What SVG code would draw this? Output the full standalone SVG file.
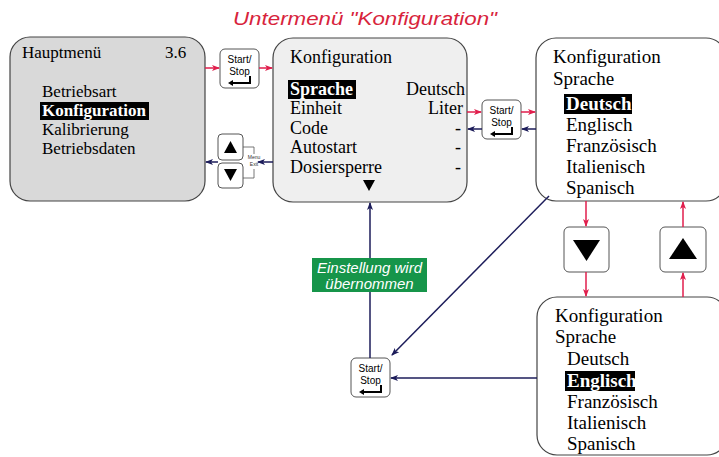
<svg xmlns="http://www.w3.org/2000/svg" width="719" height="457" viewBox="0 0 719 457">
<defs>
<marker id="ar" markerWidth="8" markerHeight="6" refX="7" refY="3" orient="auto" markerUnits="userSpaceOnUse"><path d="M0,0 L8,3 L0,6 L2,3 Z" fill="#e01e4c"/></marker>
<marker id="ab" markerWidth="8" markerHeight="6" refX="7" refY="3" orient="auto" markerUnits="userSpaceOnUse"><path d="M0,0 L8,3 L0,6 L2,3 Z" fill="#1c1c5a"/></marker>
<g id="ss">
<rect x="0" y="0" width="39" height="39" rx="5" fill="#fff" stroke="#555" stroke-width="1"/>
<text x="19.5" y="14" class="k">Start/</text>
<text x="19.5" y="26" class="k">Stop</text>
<path d="M30,27 V34 H12" fill="none" stroke="#000" stroke-width="2"/>
<path d="M8,34 L13,31 L13,37 Z" fill="#000"/>
</g>
</defs>
<style>
.s{font-family:"Liberation Serif","Times New Roman",serif;fill:#000}
.b{font-family:"Liberation Serif","Times New Roman",serif;font-weight:bold;fill:#fff}
.k{font-family:"Liberation Sans",Arial,sans-serif;font-size:10px;text-anchor:middle;fill:#000}
.r{stroke:#e01e4c;stroke-width:1.5;fill:none}
.n{stroke:#1c1c5a;stroke-width:1.5;fill:none}
.kb{fill:#fff;stroke:#555;stroke-width:1}
</style>
<rect width="719" height="457" fill="#fff"/>
<text x="233" y="25" font-family="Liberation Sans, Arial, sans-serif" font-size="18" font-style="italic" fill="#d8243c" textLength="264" lengthAdjust="spacingAndGlyphs">Untermenü "Konfiguration"</text>

<g id="hauptmenu">
<rect x="10" y="37" width="195" height="164" rx="20" fill="#d9d9d9" stroke="#444" stroke-width="1.2"/>
<text x="22" y="58" class="s" font-size="17">Hauptmenü</text>
<text x="165" y="58" class="s" font-size="17">3.6</text>
<text x="42" y="97" class="s" font-size="17">Betriebsart</text>
<rect x="40" y="102" width="109" height="18" fill="#000"/>
<text x="42" y="116" class="b" font-size="17">Konfiguration</text>
<text x="42" y="135" class="s" font-size="17">Kalibrierung</text>
<text x="42" y="154" class="s" font-size="17">Betriebsdaten</text>
</g>

<g id="konfiguration">
<rect x="273" y="38" width="194" height="164" rx="20" fill="#efefef" stroke="#444" stroke-width="1.2"/>
<text x="290" y="63" class="s" font-size="18">Konfiguration</text>
<rect x="288" y="80" width="68" height="19" fill="#000"/>
<text x="290" y="95" class="b" font-size="18">Sprache</text>
<text x="290" y="114" class="s" font-size="18">Einheit</text>
<text x="290" y="134" class="s" font-size="18">Code</text>
<text x="290" y="153" class="s" font-size="18">Autostart</text>
<text x="290" y="173" class="s" font-size="18">Dosiersperre</text>
<g class="s" font-size="18" text-anchor="end">
<text x="465" y="95">Deutsch</text>
<text x="463" y="114">Liter</text>
<text x="461" y="134">-</text>
<text x="461" y="153">-</text>
<text x="461" y="173">-</text>
</g>
<path d="M363,180 L375,180 L369,191 Z" fill="#000"/>
</g>

<g id="sprache-deutsch">
<rect x="536" y="38" width="190" height="163" rx="20" fill="#fff" stroke="#444" stroke-width="1.2"/>
<text x="553" y="63" class="s" font-size="19">Konfiguration</text>
<text x="553" y="85" class="s" font-size="19">Sprache</text>
<rect x="564" y="94" width="68" height="20" fill="#000"/>
<text x="566" y="110" class="b" font-size="19">Deutsch</text>
<text x="566" y="131" class="s" font-size="19">Englisch</text>
<text x="566" y="152" class="s" font-size="19">Französisch</text>
<text x="566" y="173" class="s" font-size="19">Italienisch</text>
<text x="566" y="194" class="s" font-size="19">Spanisch</text>
</g>

<g id="sprache-englisch">
<rect x="537" y="297" width="190" height="158" rx="20" fill="#fff" stroke="#444" stroke-width="1.2"/>
<text x="555" y="322" class="s" font-size="19">Konfiguration</text>
<text x="555" y="343" class="s" font-size="19">Sprache</text>
<text x="567" y="365" class="s" font-size="19">Deutsch</text>
<rect x="565" y="371" width="70" height="20" fill="#000"/>
<text x="567" y="387" class="b" font-size="19">Englisch</text>
<text x="567" y="408" class="s" font-size="19">Französisch</text>
<text x="567" y="429" class="s" font-size="19">Italienisch</text>
<text x="567" y="450" class="s" font-size="19">Spanisch</text>
</g>

<g id="btn-start1"><use href="#ss" x="220" y="49"/></g>
<g id="btn-start2"><use href="#ss" x="482" y="100"/></g>
<g id="btn-start3"><use href="#ss" x="351" y="358"/></g>

<g id="btn-menu">
<rect x="218" y="134" width="25" height="26" rx="4" class="kb"/>
<path d="M224,153 L237,153 L230.5,141 Z" fill="#000"/>
<rect x="218" y="163" width="25" height="25" rx="4" class="kb"/>
<path d="M224,169 L237,169 L230.5,181 Z" fill="#000"/>
<path d="M243,147 H254 V178 H243" fill="none" stroke="#555" stroke-width="0.8"/>
<rect x="247" y="154" width="14" height="15" fill="#fff"/>
<text x="254" y="159" font-family="Liberation Sans, Arial, sans-serif" font-size="5" text-anchor="middle" fill="#333">Menu</text>
<text x="254" y="166" font-family="Liberation Sans, Arial, sans-serif" font-size="5" text-anchor="middle" fill="#333">Exit</text>
</g>

<g id="btn-down">
<rect x="564" y="227" width="45" height="45" rx="5" class="kb"/>
<path d="M573,240 L600,240 L586.5,261 Z" fill="#000"/>
</g>
<g id="btn-up">
<rect x="660" y="227" width="46" height="45" rx="5" class="kb"/>
<path d="M669,259 L697,259 L683,238 Z" fill="#000"/>
</g>

<g id="green-label">
<rect x="312" y="258" width="115" height="34" fill="#16954a"/>
<text x="369.5" y="273" font-family="Liberation Sans, Arial, sans-serif" font-size="15" font-style="italic" fill="#fff" text-anchor="middle">Einstellung wird</text>
<text x="369.5" y="289" font-family="Liberation Sans, Arial, sans-serif" font-size="15" font-style="italic" fill="#fff" text-anchor="middle">übernommen</text>
</g>

<g id="connectors">
<line x1="205" y1="68" x2="219" y2="68" class="r" marker-end="url(#ar)"/>
<line x1="259" y1="68" x2="272" y2="68" class="r" marker-end="url(#ar)"/>
<line x1="467" y1="112" x2="481" y2="112" class="r" marker-end="url(#ar)"/>
<line x1="521" y1="112" x2="535" y2="112" class="r" marker-end="url(#ar)"/>
<line x1="536" y1="129" x2="522" y2="129" class="n" marker-end="url(#ab)"/>
<line x1="482" y1="129" x2="468" y2="129" class="n" marker-end="url(#ab)"/>
<line x1="273" y1="162" x2="258" y2="162" class="n" marker-end="url(#ab)"/>
<line x1="218" y1="162" x2="206" y2="162" class="n" marker-end="url(#ab)"/>
<line x1="586" y1="201" x2="586" y2="226" class="r" marker-end="url(#ar)"/>
<line x1="586" y1="272" x2="586" y2="296" class="r" marker-end="url(#ar)"/>
<line x1="683" y1="297" x2="683" y2="273" class="r" marker-end="url(#ar)"/>
<line x1="683" y1="227" x2="683" y2="202" class="r" marker-end="url(#ar)"/>
<line x1="549" y1="196" x2="392" y2="355" class="n" marker-end="url(#ab)"/>
<line x1="537" y1="378" x2="391" y2="378" class="n" marker-end="url(#ab)"/>
<line x1="370" y1="358" x2="370" y2="292" class="n"/>
<line x1="370" y1="258" x2="370" y2="203" class="n" marker-end="url(#ab)"/>
</g>
</svg>
